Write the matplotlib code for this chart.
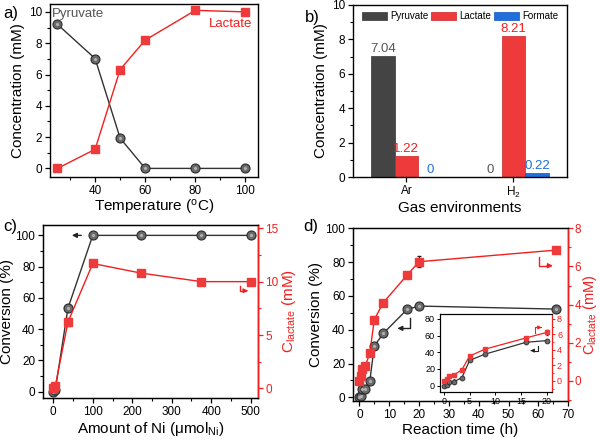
import matplotlib
matplotlib.use("Agg")
import matplotlib.pyplot as plt
from matplotlib.ticker import MultipleLocator
import numpy as np

plt.rcParams['font.family'] = ['Liberation Sans', 'DejaVu Sans']
plt.rcParams['mathtext.fontset'] = 'custom'
plt.rcParams['mathtext.rm'] = 'Liberation Sans'
plt.rcParams['mathtext.it'] = 'Liberation Sans:italic'
plt.rcParams['font.size'] = 9

# ---------------- data ----------------
# a) temperature
temp = [25, 40, 50, 60, 80, 100]
pyruvate_a = [9.2, 7.02, 1.93, 0, 0, 0]
lactate_a = [0, 1.22, 6.32, 8.2, 10.1, 10.0]

# b) gas environments
gases = ['Ar', 'H$_2$']
pyruvate_b = [7.04, 0]
lactate_b = [1.22, 8.21]
formate_b = [0, 0.22]

# c) amount of Ni
ni_amount = [0, 5, 37, 100, 222, 375, 500]
conv_c = [0, 1.0, 53.3, 100, 100, 100, 100]
lact_c = [0, 0.2, 6.2, 11.7, 10.8, 10.0, 10.0]
lact_c_err = [0, 0, 0.4, 0, 0, 0, 0]

# d) reaction time
time_d = [0, 0.5, 1, 2, 3.5, 5, 8, 16, 20, 66]
conv_d = [0, 0.5, 4.8, 5.0, 9.6, 30.3, 37.8, 52.0, 54.0, 52.2]
conv_d_err = [0, 0, 2.5, 2.5, 0, 0, 0, 0, 2.0, 0]
lact_d = [0, 0.25, 0.65, 0.8, 1.45, 3.22, 4.1, 5.55, 6.25, 6.86]
lact_d_err = [0, 0, 0.15, 0.15, 0, 0, 0, 0, 0.3, 0]

BLACK = '#333333'
BALL = '#6a6a6a'
RED = '#f21f1f'
REDF = '#ee3a3a'
BLUE = '#1f6fdc'
TICK = 8.5
LAB = 11

fig = plt.figure(figsize=(6, 4.4), dpi=100)


def style(ax):
    ax.tick_params(direction='out', length=3.5, width=0.9, labelsize=TICK, pad=2, top=False, right=False)
    ax.tick_params(which='minor', direction='out', length=2, width=0.8, top=False, right=False)
    for s in ax.spines.values():
        s.set_linewidth(1.0)


def style_right(ax, pad=2):
    ax.tick_params(axis='y', direction='out', length=3.5, width=0.9, labelsize=TICK, pad=pad,
                   right=True, left=False, labelright=True, labelleft=False, colors=RED)
    ax.tick_params(which='minor', axis='y', direction='out', length=2, width=0.8,
                   right=True, left=False, colors=RED)
    ax.spines['right'].set_color(RED)
    ax.spines['right'].set_linewidth(1.0)


def balls(ax, x, y, yerr=None, ms=6.5):
    ax.errorbar(x, y, yerr=yerr, color=BLACK, lw=1.0, marker='o', ms=ms,
                mfc=BALL, mec='#2a2a2a', mew=0.8, capsize=1.5, elinewidth=0.9, zorder=3)
    ax.plot(x, y, ls='none', marker='o', ms=ms * 0.35, mfc='#b0b0b0', mec='none', zorder=4)


def squares(ax, x, y, yerr=None, ms=6):
    ax.errorbar(x, y, yerr=yerr, color=RED, lw=1.0, marker='s', ms=ms,
                mfc=REDF, mec=REDF, capsize=1.5, elinewidth=0.9, ecolor='#222222', zorder=3)


# ---------------- a ----------------
axa = fig.add_axes([0.0833, 0.5977, 0.3467, 0.393])
style(axa)
balls(axa, temp, pyruvate_a)
squares(axa, temp, lactate_a)
axa.set_xlim(22, 105)
axa.set_ylim(-0.55, 10.5)
axa.xaxis.set_major_locator(MultipleLocator(20))
axa.xaxis.set_minor_locator(MultipleLocator(10))
axa.yaxis.set_major_locator(MultipleLocator(2))
axa.yaxis.set_minor_locator(MultipleLocator(1))
axa.set_xlabel('Temperature ($^{\\mathregular{o}}$C)', fontsize=LAB, labelpad=1)
axa.set_ylabel('Concentration (mM)', fontsize=LAB, labelpad=3)
axa.text(0.01, 0.975, 'Pyruvate', transform=axa.transAxes, color='#555555', fontsize=9.5, va='top', ha='left')
axa.text(0.97, 0.92, 'Lactate', transform=axa.transAxes, color=RED, fontsize=9.5, va='top', ha='right')
fig.text(0.005, 0.97, 'a)', fontsize=12, va='center')

# ---------------- b ----------------
axb = fig.add_axes([0.588, 0.5977, 0.357, 0.391])
style(axb)
xb = np.arange(len(gases))
w = 0.22
b1 = axb.bar(xb - w, pyruvate_b, w, color='#444444', edgecolor='#333333', lw=0.5, label='Pyruvate')
b2 = axb.bar(xb, lactate_b, w, color=REDF, edgecolor='#cc2222', lw=0.5, label='Lactate')
b3 = axb.bar(xb + w, formate_b, w, color=BLUE, edgecolor='#1155bb', lw=0.5, label='Formate')
for bars, vals, c in [(b1, pyruvate_b, '#555555'), (b2, lactate_b, RED), (b3, formate_b, BLUE)]:
    for r, v in zip(bars, vals):
        txt = '0' if v == 0 else f'{v:.2f}'
        axb.text(r.get_x() + r.get_width() / 2, v + 0.05, txt, ha='center', va='bottom', color=c, fontsize=9.5)
axb.set_xticks(xb)
axb.set_xticklabels(gases)
axb.set_xlim(-0.5, 1.5)
axb.set_ylim(0, 10)
axb.yaxis.set_major_locator(MultipleLocator(2))
axb.yaxis.set_minor_locator(MultipleLocator(1))
axb.set_xlabel('Gas environments', fontsize=LAB, labelpad=1)
axb.set_ylabel('Concentration (mM)', fontsize=LAB, labelpad=3)
axb.legend(loc='upper center', ncol=3, frameon=False, fontsize=7, handlelength=2.6, handleheight=0.9,
           columnspacing=0.3, handletextpad=0.3, borderaxespad=0.25)
fig.text(0.508, 0.96, 'b)', fontsize=12, va='center')

# ---------------- c ----------------
axc = fig.add_axes([0.0717, 0.0955, 0.358, 0.393])
style(axc)
balls(axc, ni_amount, conv_c)
axc.set_xlim(-26, 518)
axc.set_ylim(-4, 106.6)
axc.xaxis.set_major_locator(MultipleLocator(100))
axc.xaxis.set_minor_locator(MultipleLocator(50))
axc.yaxis.set_major_locator(MultipleLocator(20))
axc.yaxis.set_minor_locator(MultipleLocator(10))
axc.set_xlabel('Amount of Ni (μmol$_{\\mathregular{Ni}}$)', fontsize=LAB, labelpad=2)
axc.set_ylabel('Conversion (%)', fontsize=LAB, labelpad=1)
axc.annotate('', xy=(40, 100), xytext=(78, 100),
             arrowprops=dict(arrowstyle='-|>', color='#222222', lw=1.0, mutation_scale=7))
axc2 = axc.twinx()
style_right(axc2)
squares(axc2, ni_amount, lact_c, yerr=lact_c_err)
axc2.set_ylim(-0.9, 15.3)
axc2.yaxis.set_major_locator(MultipleLocator(5))
axc2.yaxis.set_minor_locator(MultipleLocator(2.5))
axc2.set_ylabel('C$_{\\mathregular{lactate}}$ (mM)', fontsize=LAB, color=RED, labelpad=1)
axc2.plot([473, 473, 485], [9.55, 9.15, 9.15], color=RED, lw=1.0)
axc2.annotate('', xy=(500, 9.15), xytext=(480, 9.15),
              arrowprops=dict(arrowstyle='-|>', color=RED, lw=1.0, mutation_scale=6))
fig.text(0.005, 0.485, 'c)', fontsize=12, va='center')

# ---------------- d ----------------
axd = fig.add_axes([0.588, 0.0886, 0.359, 0.3925])
style(axd)
balls(axd, time_d, conv_d, yerr=conv_d_err)
axd.set_xlim(-2.2, 70)
axd.set_ylim(-2.2, 100)
axd.xaxis.set_major_locator(MultipleLocator(10))
axd.xaxis.set_minor_locator(MultipleLocator(5))
axd.yaxis.set_major_locator(MultipleLocator(20))
axd.yaxis.set_minor_locator(MultipleLocator(10))
axd.set_xlabel('Reaction time (h)', fontsize=LAB, labelpad=2)
axd.set_ylabel('Conversion (%)', fontsize=LAB, labelpad=2)
axd.plot([16.9, 16.9, 14], [46.7, 40.8, 40.8], color='#222222', lw=1.0)
axd.annotate('', xy=(11.8, 40.8), xytext=(15, 40.8),
             arrowprops=dict(arrowstyle='-|>', color='#222222', lw=1.0, mutation_scale=7))
axd2 = axd.twinx()
style_right(axd2, pad=1)
squares(axd2, time_d, lact_d, yerr=lact_d_err)
axd2.set_ylim(-1.05, 8)
axd2.yaxis.set_major_locator(MultipleLocator(2))
axd2.yaxis.set_minor_locator(MultipleLocator(1))
axd2.set_ylabel('C$_{\\mathregular{lactate}}$ (mM)', fontsize=10.5, color=RED, labelpad=0)
axd2.plot([60.2, 60.2, 63], [6.5, 6.04, 6.04], color=RED, lw=1.0)
axd2.annotate('', xy=(65.8, 6.04), xytext=(62, 6.04),
              arrowprops=dict(arrowstyle='-|>', color=RED, lw=1.0, mutation_scale=7))
fig.text(0.505, 0.485, 'd)', fontsize=12, va='center')

# inset
axi = fig.add_axes([0.7333, 0.1098, 0.187, 0.176])
axi.tick_params(direction='out', length=2, width=0.7, labelsize=6.5, pad=1.5)
axi.tick_params(which='minor', direction='out', length=1.2, width=0.6)
for s in axi.spines.values():
    s.set_linewidth(0.8)
mask = [t <= 20 for t in time_d]
ti = [t for t, m in zip(time_d, mask) if m]
axi.errorbar(ti, [v for v, m in zip(conv_d, mask) if m], yerr=[v for v, m in zip(conv_d_err, mask) if m],
             color=BLACK, lw=0.9, marker='o', ms=3.5, mfc=BALL, mec='#2a2a2a', mew=0.6,
             capsize=1, elinewidth=0.7, zorder=3)
axi.set_xlim(-0.78, 21.1)
axi.set_ylim(-7.2, 85.6)
axi.xaxis.set_major_locator(MultipleLocator(5))
axi.yaxis.set_major_locator(MultipleLocator(20))
axi.plot([18.4, 18.4, 17.3], [47.3, 42, 42], color='#222222', lw=0.8)
axi.annotate('', xy=(16.3, 42), xytext=(17.5, 42),
             arrowprops=dict(arrowstyle='-|>', color='#222222', lw=0.8, mutation_scale=5))
axi2 = axi.twinx()
axi2.tick_params(direction='out', length=2, width=0.7, labelsize=6.5, pad=1.5, colors=RED)
axi2.spines['right'].set_color(RED)
axi2.spines['right'].set_linewidth(0.8)
axi2.errorbar(ti, [v for v, m in zip(lact_d, mask) if m], yerr=[v for v, m in zip(lact_d_err, mask) if m],
              color=RED, lw=0.9, marker='s', ms=3.2, mfc=REDF, mec=REDF,
              capsize=1, elinewidth=0.7, ecolor='#222222', zorder=3)
axi2.set_ylim(-1.38, 8.6)
axi2.yaxis.set_major_locator(MultipleLocator(2))
axi2.yaxis.set_minor_locator(MultipleLocator(1))
axi2.tick_params(which='minor', direction='out', length=1.2, width=0.6, colors=RED)
axi2.plot([17.7, 17.7, 18.6], [6.2, 6.9, 6.9], color=RED, lw=0.8)
axi2.annotate('', xy=(19.6, 6.9), xytext=(18.4, 6.9),
              arrowprops=dict(arrowstyle='-|>', color=RED, lw=0.8, mutation_scale=5))

fig.savefig('out.png', dpi=100)
